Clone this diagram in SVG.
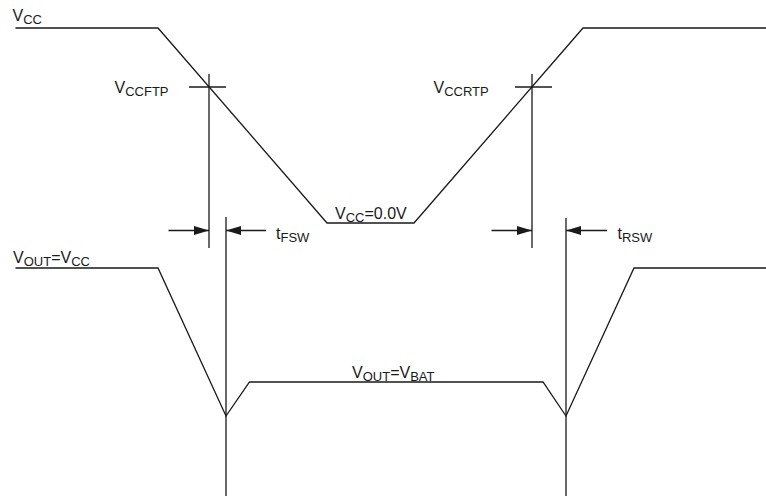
<svg xmlns="http://www.w3.org/2000/svg" width="766" height="496" viewBox="0 0 766 496">
<style>
.w{fill:none;stroke:#1a1a1a;stroke-width:1.3;stroke-linejoin:miter}
.t{font-family:"Liberation Sans",Arial,sans-serif;font-size:16px;fill:#1a1a1a}
.s{font-size:13px}
</style>
<defs>
<marker id="ah" viewBox="0 0 15 9" refX="15" refY="4.5" markerWidth="15" markerHeight="9" markerUnits="userSpaceOnUse" orient="auto">
<path d="M0,0 L15,4.5 L0,9 Z" fill="#1a1a1a"/>
</marker>
</defs>
<g id="vcc-waveform">
<polyline class="w" points="15.5,28 158,28 327,223 414,223 583,28 766,28"/>
</g>
<g id="vout-waveform">
<polyline class="w" points="15.5,268 158,268 226,416 249.5,382 543,382 566,416 634,268 766,268"/>
</g>
<g id="connectors">
<line class="w" x1="189" y1="87" x2="226" y2="87"/>
<line class="w" x1="209" y1="74" x2="209" y2="248"/>
<line class="w" x1="515" y1="87" x2="552" y2="87"/>
<line class="w" x1="532" y1="74" x2="532" y2="248"/>
<line class="w" x1="226" y1="217" x2="226" y2="496"/>
<line class="w" x1="566" y1="218" x2="566" y2="496"/>
<line class="w" x1="168.5" y1="230.5" x2="209" y2="230.5" marker-end="url(#ah)"/>
<line class="w" x1="266" y1="230.5" x2="226" y2="230.5" marker-end="url(#ah)"/>
<line class="w" x1="491.5" y1="230.5" x2="532" y2="230.5" marker-end="url(#ah)"/>
<line class="w" x1="607" y1="230.5" x2="566" y2="230.5" marker-end="url(#ah)"/>
</g>
<g id="labels">
<text class="t" x="12.5" y="21">V<tspan class="s" dy="3">CC</tspan></text>
<text class="t" x="114.5" y="93">V<tspan class="s" dy="3">CCFTP</tspan></text>
<text class="t" x="433.5" y="93">V<tspan class="s" dy="3">CCRTP</tspan></text>
<text class="t" x="335" y="219">V<tspan class="s" dy="3">CC</tspan><tspan dy="-3">=0.0V</tspan></text>
<text class="t" x="276" y="239">t<tspan class="s" dy="3">FSW</tspan></text>
<text class="t" x="617.5" y="239">t<tspan class="s" dy="3">RSW</tspan></text>
<text class="t" x="13" y="263">V<tspan class="s" dy="3">OUT</tspan><tspan dy="-3">=V</tspan><tspan class="s" dy="3">CC</tspan></text>
<text class="t" x="352" y="378">V<tspan class="s" dy="3">OUT</tspan><tspan dy="-3">=V</tspan><tspan class="s" dy="3">BAT</tspan></text>
</g>
</svg>
